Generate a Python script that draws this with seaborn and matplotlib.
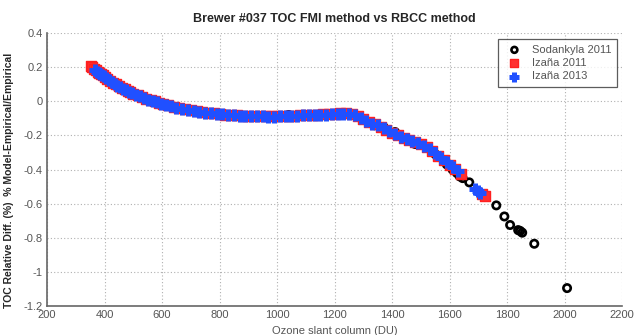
import pandas as pd
import matplotlib
matplotlib.use("Agg")
import matplotlib.pyplot as plt
import seaborn as sns

# Sodankyla 2011
sod_x = [1000, 1040, 1150, 1220, 1340, 1370, 1410, 1460, 1480, 1520, 1550, 1590, 1610,
         1625, 1635, 1645, 1668, 1700, 1762, 1790, 1810, 1838, 1845, 1852, 1894, 2008]
sod_y = [-0.085, -0.080, -0.075, -0.070, -0.140, -0.150, -0.180, -0.230, -0.250, -0.270,
         -0.310, -0.370, -0.400, -0.420, -0.440, -0.450, -0.475, -0.530, -0.610, -0.675,
         -0.725, -0.755, -0.760, -0.770, -0.835, -1.095]

# Izaña 2011
iz11_x = [352, 358, 364, 370, 376, 382, 388, 394, 400, 410, 420, 430, 440, 450, 460, 470,
          480, 490, 500, 515, 530, 545, 560, 575, 590, 605, 620, 640, 660, 680, 700, 720,
          740, 760, 780, 800, 820, 840, 860, 880, 900, 920, 940, 960, 980, 1000, 1020,
          1040, 1060, 1080, 1100, 1120, 1140, 1160, 1180, 1200, 1220, 1240, 1260, 1280,
          1300, 1320, 1340, 1360, 1380, 1400, 1420, 1440, 1460, 1480, 1500, 1520, 1540,
          1560, 1580, 1600, 1620, 1640, 1712, 1722]
iz11_y = [0.210, 0.200, 0.190, 0.182, 0.174, 0.166, 0.159, 0.152, 0.145, 0.133, 0.121,
          0.110, 0.100, 0.090, 0.080, 0.071, 0.062, 0.054, 0.046, 0.035, 0.025, 0.016,
          0.008, 0.000, -0.008, -0.015, -0.022, -0.031, -0.039, -0.046, -0.052, -0.058,
          -0.063, -0.067, -0.071, -0.074, -0.077, -0.079, -0.081, -0.083, -0.084, -0.085,
          -0.086, -0.087, -0.087, -0.087, -0.086, -0.085, -0.083, -0.081, -0.079, -0.078,
          -0.077, -0.076, -0.074, -0.072, -0.070, -0.070, -0.074, -0.088, -0.105, -0.122,
          -0.135, -0.148, -0.165, -0.185, -0.200, -0.215, -0.228, -0.240, -0.252, -0.268,
          -0.290, -0.318, -0.345, -0.372, -0.398, -0.425, -0.545, -0.555]

# Izaña 2013
iz13_x = [368, 374, 380, 386, 392, 398, 405, 415, 425, 435, 445, 455, 465, 475, 485, 495,
          508, 522, 537, 552, 567, 582, 597, 612, 630, 650, 670, 690, 710, 730, 750, 770,
          790, 810, 830, 850, 870, 890, 910, 930, 950, 970, 990, 1010, 1030, 1050, 1070,
          1090, 1110, 1130, 1150, 1170, 1190, 1210, 1230, 1250, 1270, 1290, 1310, 1330,
          1350, 1370, 1390, 1410, 1430, 1450, 1470, 1490, 1510, 1530, 1550, 1570, 1590,
          1610, 1630, 1688, 1698, 1706]
iz13_y = [0.182, 0.175, 0.167, 0.160, 0.153, 0.146, 0.137, 0.125, 0.114, 0.103, 0.093,
          0.083, 0.074, 0.065, 0.057, 0.049, 0.039, 0.029, 0.019, 0.010, 0.002, -0.006,
          -0.013, -0.020, -0.028, -0.036, -0.043, -0.050, -0.056, -0.061, -0.066, -0.070,
          -0.073, -0.076, -0.079, -0.081, -0.083, -0.085, -0.086, -0.087, -0.088, -0.089,
          -0.089, -0.088, -0.087, -0.085, -0.083, -0.081, -0.080, -0.079, -0.078, -0.077,
          -0.075, -0.073, -0.072, -0.073, -0.080, -0.097, -0.115, -0.130, -0.140, -0.155,
          -0.175, -0.193, -0.208, -0.222, -0.234, -0.246, -0.260, -0.278, -0.303, -0.332,
          -0.358, -0.385, -0.410, -0.515, -0.525, -0.535]

x_ticks = [200, 400, 600, 800, 1000, 1200, 1400, 1600, 1800, 2000, 2200]
y_ticks = [0.4, 0.2, 0, -0.2, -0.4, -0.6, -0.8, -1, -1.2]
y_tick_labels = ["0.4", "0.2", "0", "-0.2", "-0.4", "-0.6", "-0.8", "-1", "-1.2"]

sns.set_style("white")
plt.rcParams["font.family"] = ["Liberation Sans", "DejaVu Sans"]

fig = plt.figure(figsize=(6.35, 3.35), dpi=100)
ax = fig.add_axes([0.074, 0.0866, 0.906, 0.8144])

sns.scatterplot(x=sod_x, y=sod_y, ax=ax, marker="o", s=28, facecolor="none",
                edgecolor="black", linewidth=1.9, label="Sodankyla 2011", zorder=3)
sns.scatterplot(x=iz11_x, y=iz11_y, ax=ax, marker="s", s=58, facecolor="#ff3030",
                edgecolor="#ff2020", linewidth=1.0, label="Izaña 2011", zorder=3)
sns.scatterplot(x=iz13_x, y=iz13_y, ax=ax, marker="+", s=75, color="#2050ff",
                linewidth=3.6, label="Izaña 2013", zorder=4)

ax.set_xlim(200, 2200)
ax.set_ylim(-1.2, 0.4)
ax.set_xticks(x_ticks)
ax.set_yticks(y_ticks)
ax.set_yticklabels(y_tick_labels)
ax.grid(True, linestyle=(0, (1, 2)), color="#b0b0b0", linewidth=0.8)
ax.tick_params(direction="in", length=6.5, width=1.0, color="#555555",
               labelsize=8, labelcolor="#555555", pad=3)
for side in ["top", "right"]:
    ax.spines[side].set_visible(False)
for side in ["left", "bottom"]:
    ax.spines[side].set_color("#666666")
    ax.spines[side].set_linewidth(1.2)

ax.set_title("Brewer #037 TOC FMI method vs RBCC method", fontsize=9,
             fontweight="bold", pad=8)
ax.set_xlabel("Ozone slant column (DU)", fontsize=8, color="#555555", labelpad=4)
ax.set_ylabel("TOC Relative Diff. (%)  % Model-Empirical/Empirical", fontsize=7.5,
              fontweight="bold")
ax.yaxis.set_label_coords(-0.058, 0.46)

leg = ax.legend(loc="upper right", fontsize=8, frameon=True, fancybox=False,
                borderaxespad=0.3, handletextpad=0.6, labelspacing=0.3,
                borderpad=0.5, bbox_to_anchor=(0.997, 0.99), markerscale=0.8)
leg.get_frame().set_edgecolor("#333333")
leg.get_frame().set_linewidth(0.9)
for t in leg.get_texts():
    t.set_color("#555555")

fig.savefig("out.png", dpi=100)
